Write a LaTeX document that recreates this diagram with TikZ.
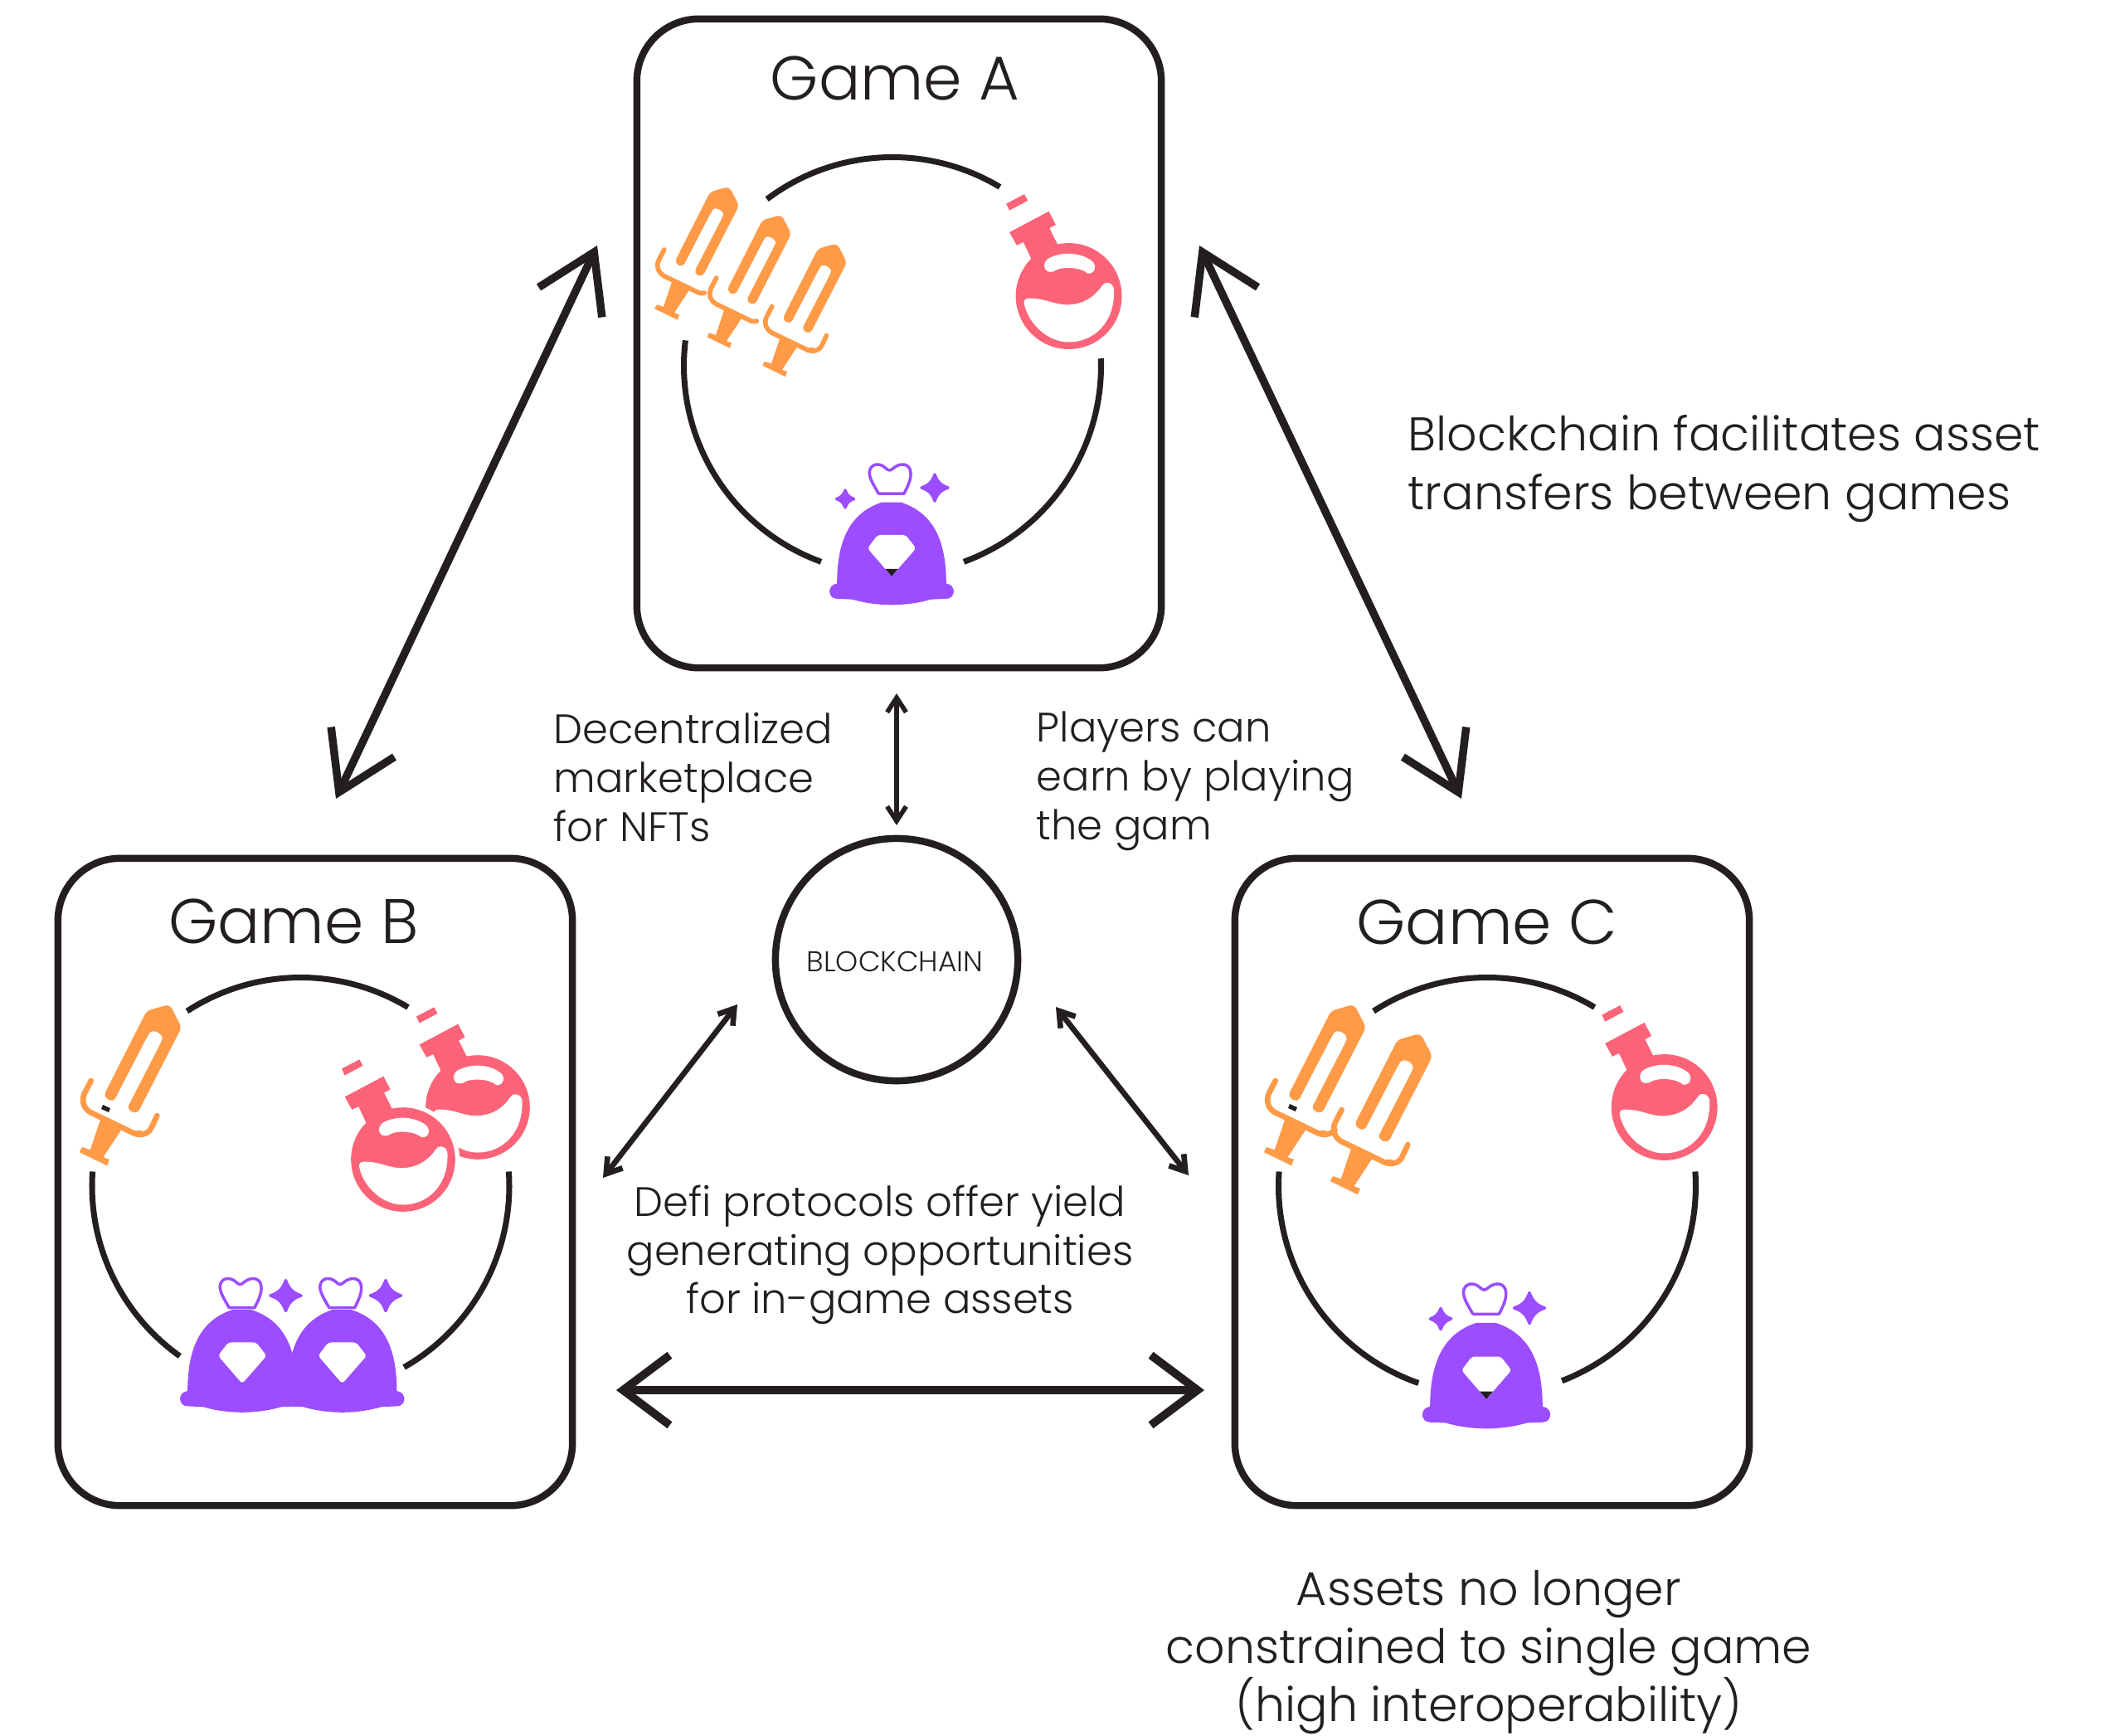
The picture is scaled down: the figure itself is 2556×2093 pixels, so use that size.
\documentclass[tikz,border=0pt]{standalone}
\usepackage{xcolor}
\usepackage{fontspec}
\usepackage{tikz}
\usetikzlibrary{arrows.meta}
\setmainfont{Poppins}[UprightFont=* Light]
\definecolor{inkdark}{HTML}{231F20}
\definecolor{swordorange}{HTML}{FF9A47}
\definecolor{flaskpink}{HTML}{FB6478}
\definecolor{bagpurple}{HTML}{9B4DFF}
\tikzset{
    icon/.style={scale=0.3827, guard/.style={line width=1.6pt}},
    iconlarge/.style={scale=0.463, guard/.style={line width=1.9pt}},
    flasksmall/.style={scale=0.376},
    gamebox/.style={draw=inkdark, line width=2.4pt, rounded corners=0.75cm, minimum height=7.8cm},
    ring/.style={draw=inkdark, line width=2pt},
    bigarrow/.style={draw=inkdark, line width=2.7pt, {Straight Barb[length=19pt,width=24pt]}-{Straight Barb[length=19pt,width=24pt]}},
    widearrow/.style={draw=inkdark, line width=2.8pt, {Straight Barb[length=16pt,width=24pt]}-{Straight Barb[length=16pt,width=24pt]}},
    thinarrow/.style={draw=inkdark, line width=1.9pt, {Straight Barb[length=5pt,width=6.5pt]}-{Straight Barb[length=5pt,width=6.5pt]}},
    gametitle/.style={text=inkdark, font=\fontsize{21.6}{26}\selectfont},
    note/.style={text=inkdark, inner sep=0pt, font=\fontsize{16.2}{20}\selectfont},
    smallnote/.style={text=inkdark, inner sep=0pt, font=\fontsize{14.1}{16.7}\selectfont},
    pics/sword/.style={code={
        \fill[swordorange, rounded corners=1.5pt] (-68,28) -- (45,-195) -- (105,-212) -- (136,-152) -- (20,74) -- (-7,61) -- (80,-108) .. controls (92,-135) and (60,-150) .. (46,-127) -- (-42,43) -- cycle;
        \draw[swordorange, guard, line cap=round] (-100,-13) -- (-118,22) .. controls (-126,45) and (-115,62) .. (-100,70) -- (10,123) .. controls (16,126) and (22,124) .. (27,123);
        \fill[swordorange] (-75,87) -- (-102,167) -- (-123,160) -- (-130,173) -- (-58,208) -- (-52,192) -- (-68,186) -- (-20,113) -- cycle;
    }},
    pics/swordtail/.style={code={
        \draw[swordorange, guard, line cap=round] (10,123) .. controls (30,132) and (50,125) .. (57,110) -- (72,78);
    }},
    pics/swordstub/.style={code={
        \draw[swordorange, guard] (10,123) .. controls (30,132) and (50,125) .. (57,110);
    }},
    pics/flask/.style={code={
        \draw[white, line width=2pt] (0,0) circle (172);
        \fill[flaskpink] (0,0) circle (167);
        \fill[flaskpink] (-197,-291) -- (-140,-321) -- (-129,-301) -- (-187,-270) -- cycle;
        \fill[flaskpink] (-187,-201) -- (-63,-267) -- (-41,-225) -- (-61,-214) -- (-34,-160) -- (-117,-115) -- (-143,-170) -- (-164,-160) -- cycle;
        \fill[white] (-140,27) .. controls (-145,12) and (-135,7) .. (-125,7) .. controls (-70,7) and (-50,27) .. (-5,27) .. controls (50,27) and (85,-3) .. (105,-33) .. controls (112,-48) and (138,-45) .. (142,-23) .. controls (148,80) and (80,145) .. (0,145) .. controls (-65,145) and (-125,90) .. cycle;
        \fill[white] (-65,-118) .. controls (-25,-140) and (30,-140) .. (70,-113) .. controls (90,-100) and (85,-70) .. (60,-71) .. controls (40,-90) and (-20,-97) .. (-50,-77) .. controls (-80,-70) and (-85,-105) .. cycle;
    }},
    pics/bag/.style={code={
        \fill[bagpurple] (-31,-188) -- (29,-188) .. controls (130,-155) and (172,-70) .. (172,68) .. controls (205,72) and (202,116) .. (172,116) -- (124,118) .. controls (45,141) and (-45,141) .. (-124,118) -- (-172,116) .. controls (-202,116) and (-205,72) .. (-172,68) .. controls (-172,-70) and (-130,-155) .. cycle;
        \fill[white, rounded corners=1pt] (-44,-85) -- (44,-85) -- (77,-43) -- (0,45) -- (-76,-43) -- cycle;
    }},
    pics/bagtie/.style={code={
        \draw[bagpurple, line width=1pt, line join=round] (-41,-215) -- (39,-215) .. controls (52,-240) and (62,-262) .. (60,-282) .. controls (58,-310) and (28,-315) .. (5,-295) .. controls (-3,-287) and (-10,-287) .. (-18,-295) .. controls (-38,-315) and (-68,-310) .. (-70,-282) .. controls (-70,-262) and (-55,-240) .. cycle;
    }},
    pics/gemtip/.style={code={
        \fill[inkdark] (-20,22) -- (20,22) -- (0,45) -- cycle;
    }},
    pics/spark/.style={code={
        \filldraw[bagpurple, line width=1pt, line join=round] (0,-44) .. controls (8,-20) and (20,-8) .. (44,0) .. controls (20,8) and (8,20) .. (0,44) .. controls (-8,20) and (-20,8) .. (-44,0) .. controls (-20,-8) and (-8,-20) .. cycle;
    }},
}
\begin{document}
\begin{tikzpicture}[x=0.01cm, y=-0.01cm]
    \useasboundingbox (0,0) rectangle (2556,2093);

    \node[gamebox, minimum width=6.32cm, minimum height=7.82cm] (gameA) at (1084,414) {};
    \node[gamebox, minimum width=6.2cm] (gameB) at (380,1425) {};
    \node[gamebox, minimum width=6.2cm] (gameC) at (1799,1425) {};
    \node[gametitle, font=\fontsize{21.2}{26}\selectfont] (titleA) at (1079,94) {Game A};
    \node[gametitle] (titleB) at (354,1111) {Game B};
    \node[gametitle] (titleC) at (1793,1112) {Game C};

    \node[draw=inkdark, line width=2.4pt, circle, minimum size=2.92cm, inner sep=0pt] (chain) at (1081,1157) {};
    \node[text=inkdark, font=\fontsize{9.8}{12}\selectfont] (chainlabel) at (1079,1159) {BLOCKCHAIN};

    \draw[ring] plot[domain=59:127, samples=40, smooth] ({1076+251.5*cos(\x)}, {441-251.5*sin(\x)});
    \draw[ring] plot[domain=173:250, samples=40, smooth] ({1076+251.5*cos(\x)}, {441-251.5*sin(\x)});
    \draw[ring] plot[domain=-70:2, samples=40, smooth] ({1076+251.5*cos(\x)}, {441-251.5*sin(\x)});
    \draw[ring] plot[domain=59:123, samples=40, smooth] ({362.5+251.5*cos(\x)}, {1430-251.5*sin(\x)});
    \draw[ring] plot[domain=176:234.6, samples=40, smooth] ({362.5+251.5*cos(\x)}, {1430-251.5*sin(\x)});
    \draw[ring] plot[domain=-60.3:4, samples=40, smooth] ({362.5+251.5*cos(\x)}, {1430-251.5*sin(\x)});
    \draw[ring] plot[domain=59:123, samples=40, smooth] ({1793+251.5*cos(\x)}, {1430-251.5*sin(\x)});
    \draw[ring] plot[domain=176:250.8, samples=40, smooth] ({1793+251.5*cos(\x)}, {1430-251.5*sin(\x)});
    \draw[ring] plot[domain=-69:4, samples=40, smooth] ({1793+251.5*cos(\x)}, {1430-251.5*sin(\x)});

    \pic[icon] at (839,306) {sword};
    \pic[icon] at (902,340) {sword};
    \pic[icon] at (969,374.5) {sword};
    \pic[icon] at (969,374.5) {swordtail};
    \pic[icon] at (1288.6,357) {flask};
    \pic[icon] at (1075,677.5) {bag};
    \pic[icon] at (1075,677.5) {bagtie};
    \pic[icon] at (1075,677.5) {gemtip};
    \pic[icon, scale=0.95] at (1127,588) {spark};
    \pic[icon, scale=0.62] at (1019,601.5) {spark};

    \pic[iconlarge] at (156,1309) {sword};
    \pic[iconlarge] at (156,1309) {swordtail};
    \fill[inkdark] (124,1332) -- (133,1336) -- (131,1341) -- (122,1337) -- cycle;
    \pic[flasksmall] at (576,1335) {flask};
    \pic[flasksmall] at (486,1398) {flask};
    \pic[icon] at (292,1651) {bag};
    \pic[icon] at (292,1659) {bagtie};
    \pic[icon] at (412.6,1651) {bag};
    \pic[icon] at (412.6,1659) {bagtie};
    \pic[icon, scale=1.1] at (344.5,1562) {spark};
    \pic[icon, scale=1.1] at (465,1562) {spark};

    \pic[iconlarge] at (1584,1309) {sword};
    \pic[iconlarge] at (1584,1309) {swordstub};
    \pic[iconlarge] at (1664,1344) {sword};
    \pic[iconlarge] at (1664,1344) {swordtail};
    \fill[inkdark] (1555,1331) -- (1564,1335) -- (1562,1340) -- (1553,1336) -- cycle;
    \pic[icon] at (2006.7,1335) {flask};
    \pic[icon, scale=1.03] at (1792,1669) {bag};
    \pic[icon, scale=1.03] at (1792,1669) {bagtie};
    \pic[icon, scale=1.03] at (1792,1669) {gemtip};
    \pic[icon, scale=1.1] at (1844,1577) {spark};
    \pic[icon, scale=0.75] at (1737,1590) {spark};

    \coordinate (abTop) at (720,296);
    \coordinate (abEnd) at (405,963);
    \coordinate (acTop) at (1446,296);
    \coordinate (acEnd) at (1762,963);
    \coordinate (bcLeft) at (743,1676);
    \coordinate (bcRight) at (1452,1676);
    \coordinate (chainUp) at (1081,836);
    \coordinate (chainDown) at (1081,995);
    \coordinate (chainBa) at (889,1211);
    \coordinate (chainBb) at (727,1420);
    \coordinate (chainCa) at (1273,1214);
    \coordinate (chainCb) at (1433,1417);
    \draw[bigarrow] (abTop) -- (abEnd);
    \draw[bigarrow] (acTop) -- (acEnd);
    \draw[widearrow] (bcLeft) -- (bcRight);
    \draw[thinarrow, line width=1.6pt] (chainUp) -- (chainDown);
    \draw[thinarrow] (chainBa) -- (chainBb);
    \draw[thinarrow] (chainCa) -- (chainCb);

    \node[note, align=left, anchor=west] (noteTransfer) at (1697,565) {Blockchain facilitates asset\\transfers between games};
    \node[smallnote, align=left, anchor=west] (noteMarket) at (667,937) {Decentralized\\marketplace\\for NFTs};
    \node[smallnote, align=left, anchor=west] (notePlayers) at (1249,942) {Players can\\earn by playing\\the gam};
    \node[smallnote, align=center] (noteDefi) at (1061,1513) {Defi protocols offer yield\\generating opportunities\\for in-game assets};
    \node[note, align=center] (noteAssets) at (1795,1992) {Assets no longer\\constrained to single game\\(high interoperability)};
\end{tikzpicture}
\end{document}
